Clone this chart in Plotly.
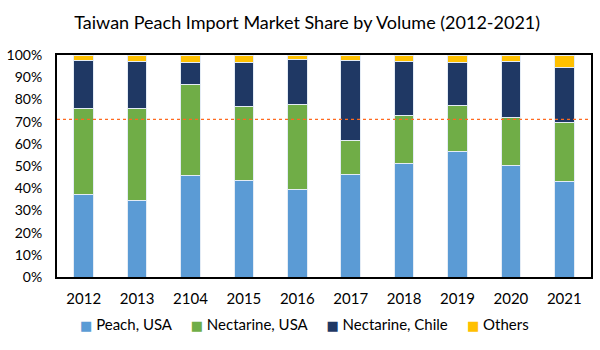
import plotly.graph_objects as go

years = ["2012", "2013", "2104", "2015", "2016", "2017", "2018", "2019", "2020", "2021"]
peach_usa = [37.0, 34.5, 45.6, 43.6, 39.6, 46.0, 51.3, 56.7, 50.4, 43.2]
nectarine_usa = [38.7, 41.5, 41.2, 33.2, 37.9, 15.5, 21.6, 20.5, 21.4, 26.5]
nectarine_chile = [21.8, 21.2, 9.9, 19.9, 20.3, 36.0, 24.3, 19.2, 25.1, 24.8]
others = [2.5, 2.8, 3.3, 3.3, 2.2, 2.5, 2.8, 3.6, 3.1, 5.5]
series_names = ["Peach, USA", "Nectarine, USA", "Nectarine, Chile", "Others"]
series_colors = ["#5B9BD5", "#70AD47", "#1F3864", "#FFC000"]
reference_share = 71.0

FONT = "Lato"

fig = go.Figure()
for name, vals, col in zip(series_names, [peach_usa, nectarine_usa, nectarine_chile, others], series_colors):
    fig.add_trace(go.Bar(
        x=years, y=vals, name=name,
        marker=dict(color=col, line=dict(color="#E4ECF5", width=1)),
        showlegend=False,
    ))

fig.add_shape(type="line", xref="paper", yref="y", x0=0, x1=1,
              y0=reference_share, y1=reference_share,
              line=dict(color="#FF6A20", width=1.2, dash="dot"))

# legend drawn as a single centered text row (compact Excel-style keys)
gap = "&nbsp;" * 5
legend_text = gap.join(
    f"<span style='color:{c};font-size:13px;font-family:DejaVu Sans'>■</span>&nbsp;{n}"
    for n, c in zip(series_names, series_colors)
)
fig.add_annotation(text=legend_text, xref="paper", yref="paper",
                   x=0.463, y=-0.212, xanchor="center", yanchor="middle",
                   showarrow=False, font=dict(family=FONT, size=15, color="black"))

fig.update_layout(
    barmode="stack",
    bargap=0.63,
    width=600, height=350,
    margin=dict(l=55, r=7, t=55, b=73),
    paper_bgcolor="white", plot_bgcolor="white",
    font=dict(family=FONT, size=14, color="black"),
    title=dict(text="Taiwan Peach Import Market Share by Volume (2012-2021)",
               xref="container", x=0.512, xanchor="center", y=0.934, yanchor="middle",
               font=dict(family=FONT, size=18, color="black")),
    showlegend=False,
)
fig.update_xaxes(showline=True, linecolor="black", linewidth=2, mirror=True,
                 showgrid=False, ticks="", tickfont=dict(size=15),
                 ticklabelstandoff=7)
fig.update_yaxes(range=[0, 100], dtick=10, ticksuffix="%", showline=True,
                 linecolor="black", linewidth=2, mirror=True, showgrid=False,
                 zeroline=False, ticks="", tickfont=dict(size=14),
                 ticklabelstandoff=10)

fig.write_html("out.html")
